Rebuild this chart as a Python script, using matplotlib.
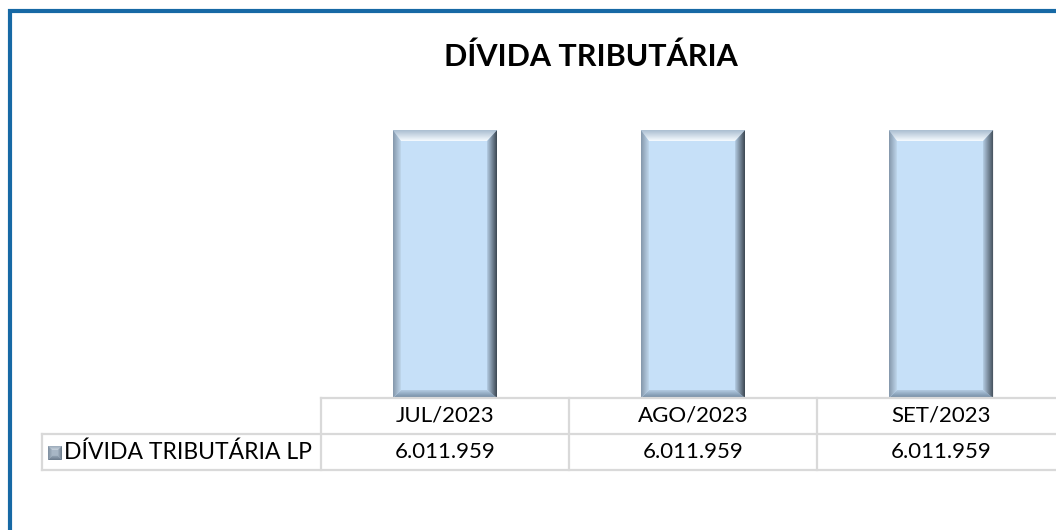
import numpy as np
import matplotlib
matplotlib.use("Agg")
import matplotlib.pyplot as plt
from matplotlib.patches import Polygon, Rectangle
from matplotlib.lines import Line2D
from matplotlib.colors import to_rgb

title = "DÍVIDA TRIBUTÁRIA"
categories = ["JUL/2023", "AGO/2023", "SET/2023"]
series_name = "DÍVIDA TRIBUTÁRIA LP"
values = [6011959, 6011959, 6011959]


def fmt(v):
    return f"{v:,.0f}".replace(",", ".")


W, H = 1056, 530
plt.rcParams['font.family'] = ['Lato', 'DejaVu Sans']
fig = plt.figure(figsize=(W / 100, H / 100), dpi=100)
fig.patch.set_facecolor("white")


def fx(px):
    return px / W


def fy(py):
    return 1 - py / H


ax_left, ax_right = 321, 1065
ax_top, ax_bottom = 86, 398
ymax = 7000000
ax = fig.add_axes([fx(ax_left), fy(ax_bottom), (ax_right - ax_left) / W, (ax_bottom - ax_top) / H])
x = np.arange(len(categories))
face = "#C6E0F8"
bars = ax.bar(x, values, width=0.42, color=face, edgecolor='none', zorder=2)
ax.set_xlim(-0.5, len(categories) - 0.5)
ax.set_ylim(0, ymax)
ax.axis('off')

# bevel sizes in data units (derived from pixel sizes)
px_per_x = (ax_right - ax_left) / len(categories)
px_per_y = (ax_bottom - ax_top) / ymax
bev_r = 10 / px_per_x
bev_l = 8 / px_per_x
bev_t = 11 / px_per_y
bev_b = 8 / px_per_y


def grad_fill(poly_xy, extent, c_from, c_to, direction, target=None):
    target = target or ax
    n = 64
    c0 = np.array(to_rgb(c_from))
    c1 = np.array(to_rgb(c_to))
    t = np.linspace(0, 1, n)
    cols = c0[None, :] * (1 - t[:, None]) + c1[None, :] * t[:, None]
    img = cols[None, :, :] if direction == 'x' else cols[:, None, :]
    poly = Polygon(poly_xy, closed=True, facecolor='none', edgecolor='none')
    target.add_patch(poly)
    im = target.imshow(img, extent=extent, origin='lower', aspect='auto', zorder=3,
                       interpolation='bilinear')
    im.set_clip_path(poly)


def bevel(x0, x1, y0, y1, bl, br, bt, bb, cols, target=None):
    top_c, bot_c, left_c, right_c = cols
    grad_fill([(x0, y1), (x1, y1), (x1 - br, y1 - bt), (x0 + bl, y1 - bt)],
              [x0, x1, y1 - bt, y1], top_c[0], top_c[1], 'y', target)
    grad_fill([(x0, y0), (x1, y0), (x1 - br, y0 + bb), (x0 + bl, y0 + bb)],
              [x0, x1, y0, y0 + bb], bot_c[0], bot_c[1], 'y', target)
    grad_fill([(x0, y0), (x0, y1), (x0 + bl, y1 - bt), (x0 + bl, y0 + bb)],
              [x0, x0 + bl, y0, y1], left_c[0], left_c[1], 'x', target)
    grad_fill([(x1, y0), (x1, y1), (x1 - br, y1 - bt), (x1 - br, y0 + bb)],
              [x1 - br, x1, y0, y1], right_c[0], right_c[1], 'x', target)


bar_cols = (("#F6FBFF", "#A9BDD0"), ("#6F879E", "#B3CBE2"),
            ("#8497AA", "#BFD6EC"), ("#B4CCE3", "#3C4752"))
for b in bars:
    x0 = b.get_x()
    x1 = x0 + b.get_width()
    y0 = b.get_y()
    y1 = y0 + b.get_height()
    bevel(x0, x1, y0, y1, bev_l, bev_r, bev_t, bev_b, bar_cols)

ax.set_xlim(-0.5, len(categories) - 0.5)
ax.set_ylim(0, ymax)

# title
fig.text(fx(591), fy(57), title, ha='center', va='center', fontsize=22,
         fontweight='bold', color='black')

# data table
grid_c = "#D9D9D9"
row_top, row_mid, row_bot = 398, 434, 470
legend_left = 42
bounds = [ax.transData.transform((bx, 0))[0] for bx in np.arange(-0.5, len(categories), 1.0)]


def fline(xs, ys):
    fig.add_artist(Line2D([fx(v) for v in xs], [fy(v) for v in ys], color=grid_c, lw=1.6,
                          transform=fig.transFigure))


fline([bounds[0], bounds[-1]], [row_top, row_top])
fline([legend_left, bounds[-1]], [row_mid, row_mid])
fline([legend_left, bounds[-1]], [row_bot, row_bot])
fline([legend_left, legend_left], [row_mid, row_bot])
for bx in bounds:
    fline([bx, bx], [row_top, row_bot])

for i, (cat, v) in enumerate(zip(categories, values)):
    cx = ax.transData.transform((i, 0))[0]
    fig.text(fx(cx), fy((row_top + row_mid) / 2), cat, ha='center', va='center', fontsize=16)
    fig.text(fx(cx), fy((row_mid + row_bot) / 2), fmt(v), ha='center', va='center', fontsize=16)

# legend key (small bevelled square)
kax = fig.add_axes([fx(48), fy(460), 14 / W, 14 / H])
kax.axis('off')
kax.add_patch(Rectangle((0, 0), 1, 1, facecolor="#A7B6C5", edgecolor='none'))
bevel(0, 1, 0, 1, 0.3, 0.3, 0.3, 0.3,
      (("#C9D3DD", "#8E9FB0"), ("#6A7B8C", "#9AAABA"),
       ("#7D8E9F", "#AEBCCA"), ("#A3B2C1", "#5E6E7E")), target=kax)
kax.set_xlim(0, 1)
kax.set_ylim(0, 1)
fig.text(fx(64), fy((row_mid + row_bot) / 2), series_name, ha='left', va='center', fontsize=16.5)

# chart border
fig.add_artist(Rectangle((fx(10), -0.5), 2.0, fy(11) + 0.5, transform=fig.transFigure,
                         facecolor='none', edgecolor="#1769A5", lw=3))

fig.savefig("out.png", dpi=100)
